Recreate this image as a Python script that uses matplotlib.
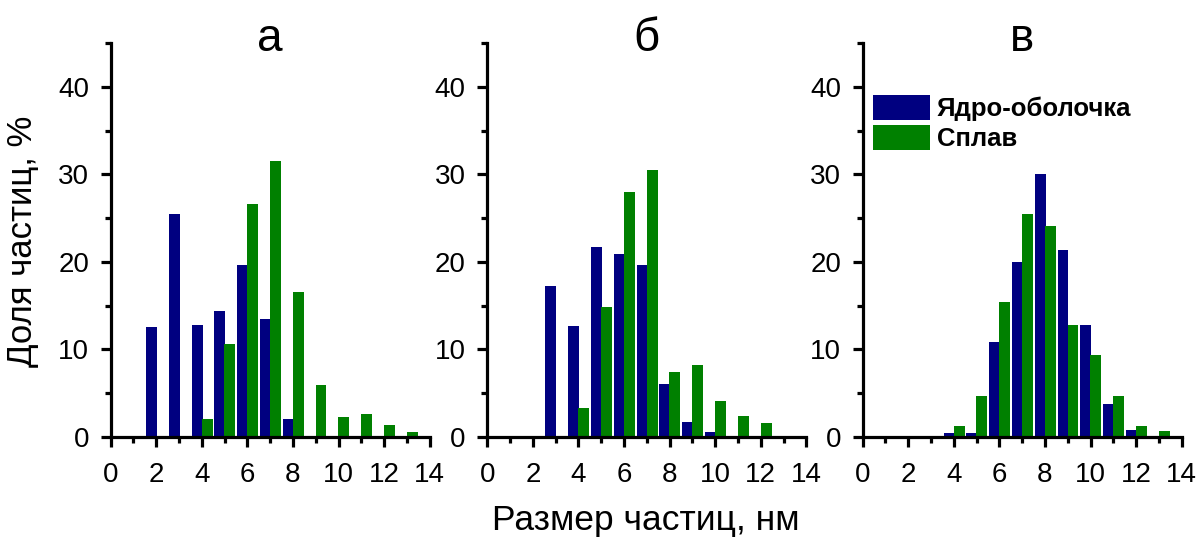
import numpy as np
import matplotlib; matplotlib.use('Agg')
import matplotlib.pyplot as plt
from matplotlib.patches import Patch
from matplotlib.ticker import MultipleLocator

plt.rcParams.update({
    'font.family':'sans-serif','font.sans-serif':['Liberation Sans','Arial','DejaVu Sans'],
    'font.size':20,'xtick.labelsize':20,'ytick.labelsize':20,
    'axes.linewidth':2.3,'xtick.major.width':2.3,'ytick.major.width':2.3,
    'xtick.minor.width':2.3,'ytick.minor.width':2.3,
    'xtick.major.size':7.5,'ytick.major.size':7.5,'xtick.minor.size':4.2,'ytick.minor.size':4.2,
    'xtick.direction':'out','ytick.direction':'out','xtick.major.pad':11,'ytick.major.pad':8,
})

# particle size distributions, % per 1 nm bin
# (а) core-shell / alloy
size_core_a = [2, 3, 4, 5, 6, 7, 8]
core_a = [12.6, 25.5, 12.8, 14.4, 19.65, 13.5, 2.0]
size_alloy_a = [4, 5, 6, 7, 8, 9, 10, 11, 12, 13]
alloy_a = [2.0, 10.6, 26.65, 31.5, 16.6, 5.96, 2.23, 2.54, 1.38, 0.5]
# (б)
size_core_b = [3, 4, 5, 6, 7, 8, 9, 10]
core_b = [17.2, 12.65, 21.7, 20.85, 19.65, 6.0, 1.73, 0.54]
size_alloy_b = [4, 5, 6, 7, 8, 9, 10, 11, 12]
alloy_b = [3.27, 14.8, 28.0, 30.5, 7.35, 8.2, 4.04, 2.42, 1.54]
# (в)
size_core_c = [4, 5, 6, 7, 8, 9, 10, 11, 12]
core_c = [0.46, 0.46, 10.85, 20.0, 30.0, 21.4, 12.8, 3.77, 0.73]
size_alloy_c = [4, 5, 6, 7, 8, 9, 10, 11, 12, 13]
alloy_c = [1.27, 4.6, 15.4, 25.5, 24.15, 12.77, 9.4, 4.6, 1.27, 0.65]

panels = [('а', size_core_a, core_a, size_alloy_a, alloy_a),
          ('б', size_core_b, core_b, size_alloy_b, alloy_b),
          ('в', size_core_c, core_c, size_alloy_c, alloy_c)]

c_core = '#000080'; c_alloy = '#008000'
W = 0.48

fig = plt.figure(figsize=(12.03, 5.37), dpi=100)
lefts = [0.0920, 0.4051, 0.7171]
axes = []
for left, (title, xc, yc, xa, ya) in zip(lefts, panels):
    ax = fig.add_axes([left, 0.1868, 0.2652, 0.7326])
    ax.bar(np.array(xc) - 0.21, yc, width=W, color=c_core, linewidth=0)
    ax.bar(np.array(xa) + 0.23, ya, width=W, color=c_alloy, linewidth=0)
    ax.set_xlim(0, 14); ax.set_ylim(0, 45)
    ax.xaxis.set_major_locator(MultipleLocator(2)); ax.xaxis.set_minor_locator(MultipleLocator(1))
    ax.yaxis.set_major_locator(MultipleLocator(10)); ax.yaxis.set_minor_locator(MultipleLocator(5))
    ax.spines['top'].set_visible(False); ax.spines['right'].set_visible(False)
    for sp in ax.spines.values(): sp.set_capstyle('projecting')
    ax.text(0.5, 0.98, title, transform=ax.transAxes, ha='center', va='baseline', fontsize=33)
    axes.append(ax)

legend_elements = [Patch(facecolor=c_core, label='Ядро-оболочка'),
                   Patch(facecolor=c_alloy, label='Сплав')]
axes[2].legend(handles=legend_elements, loc='upper left', bbox_to_anchor=(0.032, 0.868),
               frameon=False, borderpad=0, borderaxespad=0,
               prop={'weight':'bold','size':18.5}, handlelength=2.22, handleheight=1.09,
               handletextpad=0.27, labelspacing=0.15)

fig.text(0.537, 0.013, 'Размер частиц, нм', ha='center', va='baseline', fontsize=25.5)
fig.text(0.019, 0.551, 'Доля частиц, %', ha='center', va='center', rotation=90, fontsize=25)

plt.savefig('out.png', dpi=100)
plt.close()
